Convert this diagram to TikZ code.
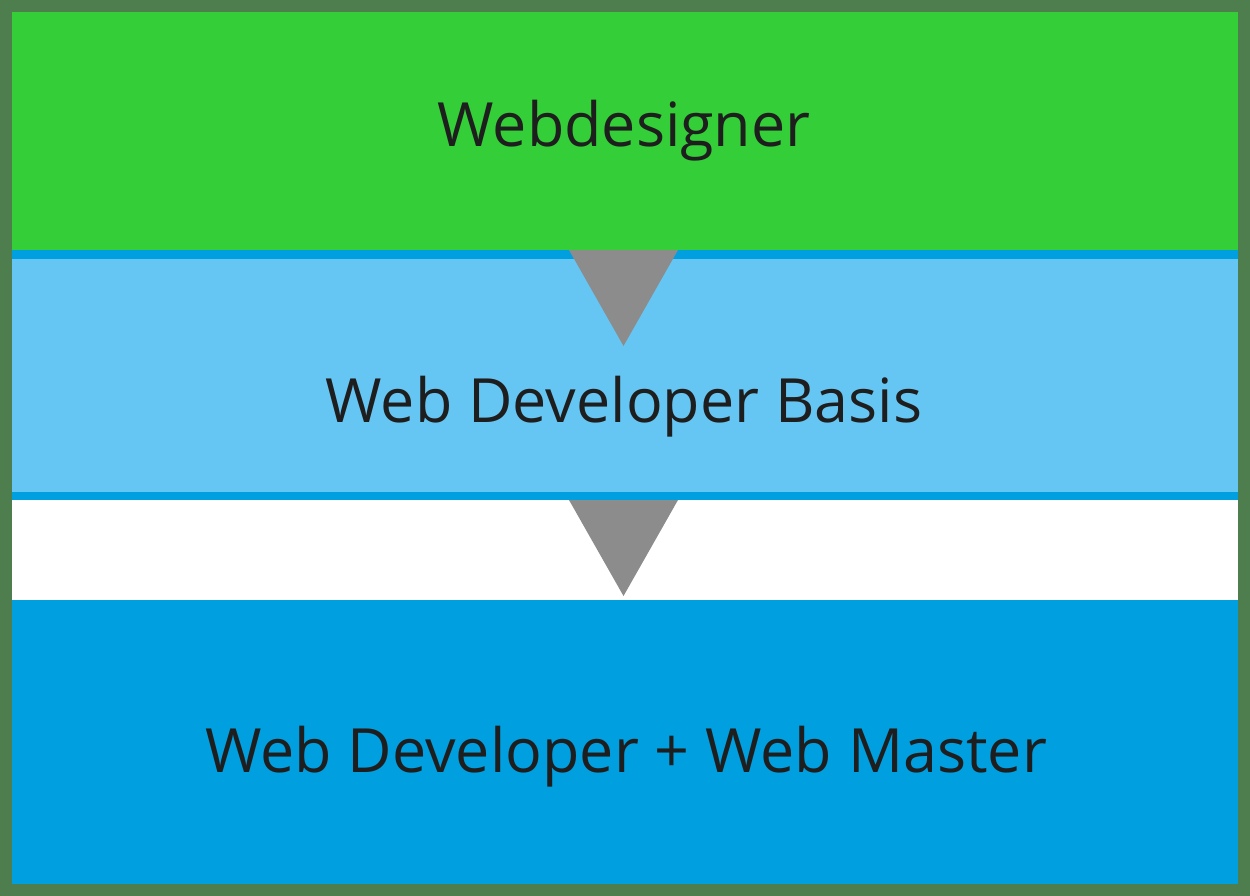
\documentclass[tikz,border=0pt]{standalone}
\usepackage{fontspec}
\setmainfont{Open Sans}
\definecolor{frame}{HTML}{4E7D4E}
\definecolor{grn}{HTML}{33CE38}
\definecolor{lblue}{HTML}{66C6F3}
\definecolor{dblue}{HTML}{009FE0}
\definecolor{tri}{HTML}{8C8C8C}
\definecolor{txt}{HTML}{1E1E1E}
\begin{document}
\begin{tikzpicture}[x=1pt,y=-1pt,
  lbl/.style={text=txt,font=\fontsize{61}{66}\selectfont,anchor=base,inner sep=0pt}]
\fill[frame] (0,0) rectangle (1250,896);
\useasboundingbox (0,0) rectangle (1250,896);
\fill[grn] (12,12) rectangle (1238,250);
\fill[dblue] (12,250) rectangle (1238,259);
\fill[lblue] (12,259) rectangle (1238,492);
\fill[dblue] (12,492) rectangle (1238,500);
\fill[white] (12,500) rectangle (1238,600);
\fill[dblue] (12,600) rectangle (1238,884);
\node[lbl] (a) at (624,147) {Webdesigner};
\node[lbl] (b) at (624,422) {Web Developer Basis};
\node[lbl] (c) at (626,772) {Web Developer + Web Master};
\fill[tri] (569,250) -- (678,250) -- (623.5,346) -- cycle;
\fill[tri] (569,500) -- (678,500) -- (623.5,596) -- cycle;
\end{tikzpicture}
\end{document}
